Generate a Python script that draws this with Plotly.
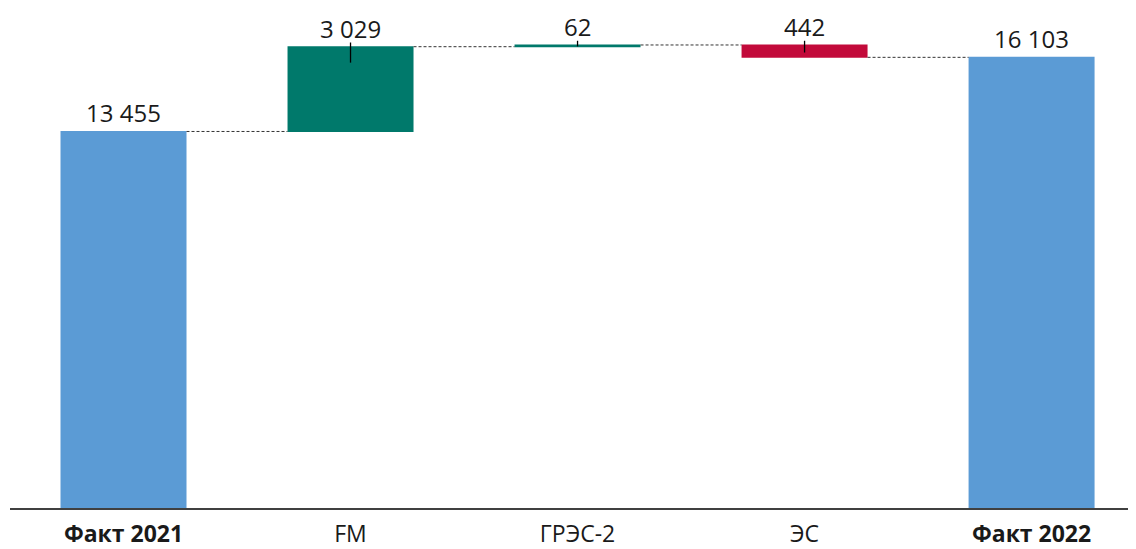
import plotly.graph_objects as go

categories = ["<b>Факт 2021</b>", "FM", "ГРЭС-2", "ЭС", "<b>Факт 2022</b>"]
values = [13455, 3029, 62, -442, 16103]
measures = ["absolute", "relative", "relative", "relative", "absolute"]
labels = ["13 455", "3 029", "62", "442", "16 103"]
# small vertical marks above changes (length in value units)
mark_len = [0, 720, 200, 420, 0]

FONT = "Open Sans, Liberation Sans, sans-serif"

fig = go.Figure()
fig.add_trace(go.Waterfall(
    x=categories, y=values, measure=measures,
    connector=dict(mode="between", line=dict(color="#333333", width=1, dash="3px,2px")),
    increasing=dict(marker=dict(color="#00796B")),
    decreasing=dict(marker=dict(color="#C20A3A")),
    totals=dict(marker=dict(color="#5B9BD5")),
    textposition="none", width=0.555,
    hoverinfo="skip",
))

tops = []
run = 0
for v, m in zip(values, measures):
    if m == "absolute":
        run = v
        tops.append(v)
    else:
        start = run
        run += v
        tops.append(max(start, run))

annotations = []
shapes = []
for i, (c, lab, t) in enumerate(zip(categories, labels, tops)):
    annotations.append(dict(x=c, y=t, text=lab, showarrow=False, yanchor="bottom",
                            yshift=1, borderpad=0,
                            font=dict(size=24, color="#1a1a1a", family=FONT)))
    if mark_len[i]:
        shapes.append(dict(type="line", xref="x", yref="y", x0=i, x1=i,
                           y0=t + 150, y1=t + 150 - mark_len[i],
                           line=dict(color="#000000", width=1.3)))

fig.update_layout(
    width=1128, height=541,
    margin=dict(l=2, r=0, t=0, b=35),
    paper_bgcolor="white", plot_bgcolor="white",
    showlegend=False,
    annotations=annotations,
    shapes=shapes,
    font=dict(family=FONT, size=23, color="#1a1a1a"),
)
fig.update_xaxes(type="category", range=[-0.5, 4.46], showline=True, linecolor="#404040",
                 linewidth=1.5, ticks="", tickfont=dict(size=23), ticklabelstandoff=5,
                 showgrid=False)
fig.update_yaxes(range=[0, 17867], visible=False, showgrid=False)

fig.write_html("out.html")
